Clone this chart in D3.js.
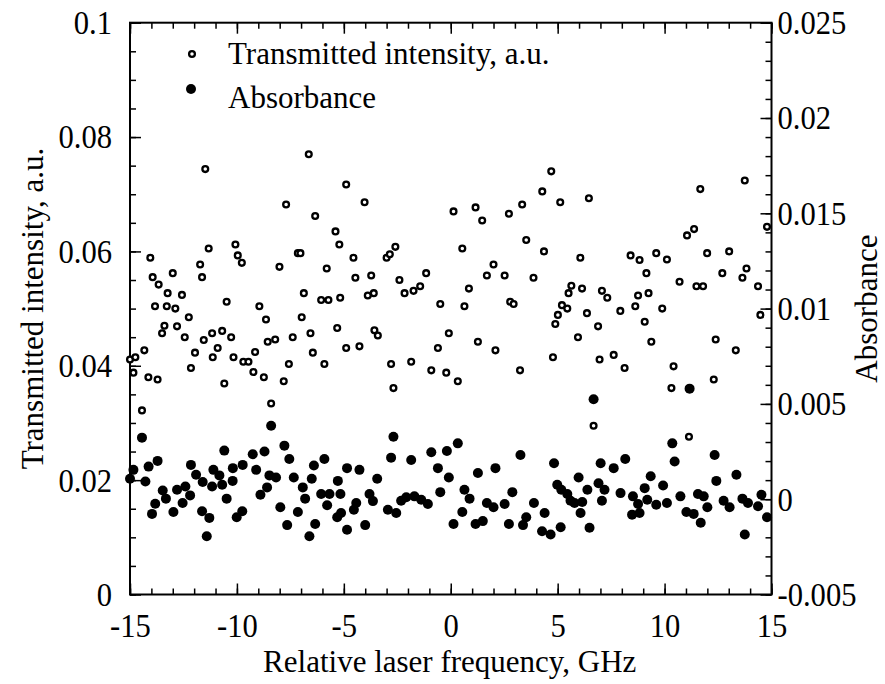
<!DOCTYPE html>
<html>
<head>
<meta charset="utf-8">
<script src="https://cdn.jsdelivr.net/npm/d3@7"></script>
<style>
  body { margin: 0; background: #fff; }
  svg text { font-family: "Liberation Serif", "Times New Roman", serif; fill: #000; }
</style>
</head>
<body>
<div id="chart"></div>
<script>
// Transmitted intensity (open circles), left axis
const transFreq = [
  -11.48, -14.05, -13.94, -13.66, -13.24, -12.57, -13.0, -13.83, -13.28, -12.88,
  -12.25, -13.39, -13.5, -12.8, -12.44, -15.0, -14.75, -14.33, -14.84, -14.14,
  -13.71, -14.44, -12.15, -11.96, -11.55, -11.16, -10.69, -10.27, -11.13, -10.9,
  -10.59, -10.16, -9.70, -10.48, -11.72, -11.63, -11.32, -10.07, -9.96, -9.77,
  -9.46, -6.64, -4.89, -7.70, -4.03, -6.34, -5.39, -5.21, -7.15, -7.03,
  -4.55, -8.01, -5.80, -4.46, -3.72, -6.87, -6.06, -5.72, -5.17, -3.88,
  -3.60, -8.95, -8.64, -6.97, -8.56, -8.21, -7.39, -6.56, -5.31, -3.57,
  -3.41, -9.15, -9.23, -8.74, -7.57, -7.81, -6.45, -5.91, -4.89, -4.27,
  -8.40, 0.13, 1.16, 1.47, 2.72, -2.59, -3.0, -2.85, 0.54, 2.0,
  1.69, 2.52, -2.4, -1.15, -2.16, -1.74, -1.43, 0.85, -0.49, 0.64,
  2.78, 2.94, -0.09, -0.6, 1.27, 2.09, -2.79, -1.85, -0.91, -0.21,
  0.33, -2.68, 4.70, 4.28, 3.34, 5.12, 6.46, 3.53, 4.36, 6.06,
  8.41, 8.83, 9.15, 3.87, 5.64, 5.51, 6.14, 7.07, 7.32, 8.76,
  8.63, 9.25, 5.20, 5.45, 5.01, 4.89, 6.37, 6.89, 7.93, 9.07,
  5.95, 4.78, 6.96, 7.62, 8.13, 3.24, 6.68, 13.75, 11.67, 11.05,
  11.38, 14.79, 9.61, 10.11, 11.99, 13.02, 10.70, 11.49, 11.80, 12.70,
  13.64, 13.83, 14.37, 9.89, 9.38, 14.48, 12.39, 13.33, 10.42, 10.32,
  12.30, 11.14
];
const transValue = [
  0.0744, 0.0589, 0.0555, 0.0542, 0.0527, 0.0524, 0.0562, 0.0504, 0.0504, 0.0500,
  0.0485, 0.0470, 0.0457, 0.0469, 0.0450, 0.0411, 0.0415, 0.0427, 0.0388, 0.0380,
  0.0376, 0.0322, 0.0396, 0.0423, 0.0445, 0.0457, 0.0461, 0.0450, 0.0415, 0.0431,
  0.0369, 0.0415, 0.0407, 0.0512, 0.0577, 0.0555, 0.0605, 0.0612, 0.0593, 0.0580,
  0.0407, 0.0770, 0.0717, 0.0682, 0.0686, 0.0662, 0.0635, 0.0612, 0.0597, 0.0597,
  0.0589, 0.0573, 0.0570, 0.0554, 0.0558, 0.0527, 0.0515, 0.0515, 0.0519, 0.0523,
  0.0527, 0.0504, 0.0481, 0.0485, 0.0442, 0.0446, 0.0450, 0.0457, 0.0466, 0.0462,
  0.0453, 0.0424, 0.0389, 0.0380, 0.0403, 0.0373, 0.0423, 0.0403, 0.0431, 0.0434,
  0.0334, 0.0670, 0.0677, 0.0654, 0.0666, 0.0608, 0.0589, 0.0595, 0.0605, 0.0577,
  0.0558, 0.0558, 0.0550, 0.0562, 0.0527, 0.0531, 0.0539, 0.0535, 0.0508, 0.0504,
  0.0512, 0.0508, 0.0457, 0.0431, 0.0442, 0.0427, 0.0403, 0.0407, 0.0392, 0.0388,
  0.0373, 0.0361, 0.0740, 0.0705, 0.0682, 0.0686, 0.0693, 0.0620, 0.0600, 0.0589,
  0.0593, 0.0585, 0.0562, 0.0554, 0.0540, 0.0527, 0.0535, 0.0531, 0.0519, 0.0523,
  0.0504, 0.0527, 0.0506, 0.0500, 0.0489, 0.0473, 0.0492, 0.0469, 0.0496, 0.0477,
  0.0450, 0.0415, 0.0411, 0.0419, 0.0396, 0.0392, 0.0295, 0.0724, 0.0709, 0.0628,
  0.0639, 0.0643, 0.0597, 0.0586, 0.0597, 0.0600, 0.0547, 0.0539, 0.0539, 0.0562,
  0.0554, 0.0570, 0.0539, 0.0500, 0.0442, 0.0489, 0.0446, 0.0427, 0.0399, 0.0361,
  0.0376, 0.0276
];

// Absorbance (filled circles), right axis
const absFreq = [
  -14.44, -14.84, -15.0, -14.28, -14.13, -13.71, -13.47, -13.82, -13.97, -13.32,
  -12.97, -12.8, -12.41, -12.54, -12.19, -12.15, -11.91, -11.6, -11.63, -11.29,
  -11.41, -11.16, -11.1, -10.82, -10.69, -10.48, -10.59, -10.19, -10.2, -10.01,
  -9.73, -9.75, -8.4, -7.78, -7.55, -8.71, -9.26, -9.10, -8.48, -8.17,
  -8.59, -8.9, -7.97, -7.65, -7.34, -6.92, -6.81, -7.15, -6.61, -6.34,
  -6.5, -6.4, -5.91, -6.06, -5.67, -5.16, -5.78, -5.28, -4.85, -4.27,
  -5.31, -5.13, -4.85, -4.42, -4.53, -4.0, -3.8, -3.64, -3.44, -2.68,
  -2.79, -1.85, -0.91, -0.18, 0.33, -0.6, -0.09, 1.27, 2.09, -2.94,
  -2.55, -2.32, -2.08, -1.7, -1.38, -1.07, -0.49, 0.64, 0.88, 0.54,
  0.13, 1.16, 1.5, 1.69, 2.0, 2.52, 2.72, 2.88, 6.68, 3.26,
  4.83, 7.01, 7.62, 8.16, 5.98, 6.91, 6.39, 4.98, 5.17, 5.45,
  5.6, 5.79, 6.15, 7.19, 7.07, 7.94, 3.89, 4.39, 3.53, 3.38,
  4.27, 4.67, 5.14, 6.07, 6.49, 8.52, 8.76, 8.48, 8.83, 9.07,
  9.19, 9.35, 11.17, 10.36, 10.47, 12.34, 13.36, 12.42, 14.53, 9.93,
  9.61, 10.11, 10.74, 11.56, 11.83, 12.0, 11.02, 11.36, 11.69, 12.76,
  13.04, 13.64, 13.9, 14.37, 13.75, 14.79
];
const absValue = [
  0.00323, 0.00154, 0.00107, 0.00093, 0.00171, 0.00201, 0.00046, -0.00024, -0.00077, 0.00003,
  -0.00067, 0.00050, 0.00067, -0.0002, 0.0002, 0.0018, 0.00128, 0.0009, -0.00063, -0.00098,
  -0.00194, 0.00067, 0.00154, 0.00125, 0.00076, 0.00003, 0.00255, 0.00163, 0.00096, -0.00095,
  0.0018, -0.00063, 0.00385, 0.00281, 0.00211, 0.0025, 0.00236, 0.00154, 0.00125, 0.00114,
  0.00062, 0.00023, -0.00042, -0.00136, 0.00114, 0.00062, 0.00003, -0.00067, -0.00194, -0.0013,
  0.00107, 0.00177, 0.00211, 0.00027, 0.00027, 0.00027, -0.00032, 0.00096, 0.00163, 0.00154,
  -0.00095, -0.00072, -0.0016, -0.0002, -0.00055, -0.00136, 0.00027, -0.0001, 0.00107, 0.00328,
  0.00218, 0.00206, 0.00246, 0.00253, 0.00293, 0.00163, 0.00114, 0.00137, 0.00163, -0.00055,
  -0.00072, -0.00008, 0.0001, 0.00015, -0.00003, -0.00025, 0.00037, 0.0005, 0.00003, -0.00067,
  -0.0013, -0.0013, -0.00115, -0.0002, -0.00042, -0.00025, -0.0013, 0.00037, 0.00524, 0.00232,
  0.00189, 0.00189, 0.00163, 0.00211, 0.00114, 0.00084, 0.0005, 0.00076, 0.0005, 0.00027,
  -0.00008, -0.0002, -0.00015, 0.0005, -0.00008, 0.00032, -0.0002, -0.00072, -0.00095, -0.00136,
  -0.00168, -0.00185, -0.00147, -0.00072, -0.0015, 0.00015, -0.00025, -0.00081, -0.00072, 0.00058,
  -0.00003, 0.0012, 0.0058, 0.00293, 0.00198, 0.00232, 0.00128, 0.00096, 0.00023, 0.00072,
  -0.00029, -0.0002, 0.00015, 0.00027, 0.00015, -0.00042, -0.00067, -0.00077, -0.00124, -0.00008,
  -0.00042, 0.00003, -0.0002, -0.00037, -0.00185, -0.00095
];

// tick values
const xTicks = [-15, -10, -5, 0, 5, 10, 15];
const leftTicks = [0, 0.02, 0.04, 0.06, 0.08, 0.1];
const rightTicks = [-0.005, 0, 0.005, 0.01, 0.015, 0.02, 0.025];

const width = 885, height = 684;
const plot = { left: 130, right: 771.5, top: 22.7, bottom: 594.5 };

const svg = d3.select('#chart').append('svg')
    .attr('width', width)
    .attr('height', height);

const x = d3.scaleLinear().domain([-15, 15]).range([plot.left, plot.right]);
const yL = d3.scaleLinear().domain([0, 0.1]).range([plot.bottom, plot.top]);
const yR = d3.scaleLinear().domain([-0.005, 0.025]).range([plot.bottom, plot.top]);

const major = 11, minor = 6, tickFont = 34;
const squeeze = 0.9; // reference digits are narrow, taller than wide

// minor tick positions (every 1 GHz, every 0.005 left, every 0.001 right)
const xMinor = d3.range(-15, 15.001, 1);
const leftMinor = d3.range(0, 0.1001, 0.005);
const rightMinor = d3.range(-0.005, 0.02501, 0.001);

function styleAxis(g) {
    g.select('.domain').remove();
    g.selectAll('line').attr('stroke', '#000').attr('stroke-width', 1.5);
    g.selectAll('text')
        .style('font-size', tickFont + 'px')
        .attr('fill', '#000')
        .attr('x', function() { return (+d3.select(this).attr('x') || 0) / squeeze; })
        .attr('transform', `scale(${squeeze},1)`);
}

// bottom
svg.append('g').attr('transform', `translate(0,${plot.bottom})`)
    .call(d3.axisBottom(x).tickValues(xMinor).tickSize(-minor).tickFormat(''))
    .call(styleAxis);
svg.append('g').attr('transform', `translate(0,${plot.bottom})`)
    .call(d3.axisBottom(x).tickValues(xTicks).tickSize(-major).tickPadding(18).tickFormat(d => String(d)))
    .call(styleAxis);
// top
svg.append('g').attr('transform', `translate(0,${plot.top})`)
    .call(d3.axisTop(x).tickValues(xMinor).tickSize(-minor).tickFormat(''))
    .call(styleAxis);
svg.append('g').attr('transform', `translate(0,${plot.top})`)
    .call(d3.axisTop(x).tickValues(xTicks).tickSize(-major).tickFormat(''))
    .call(styleAxis);
// left
svg.append('g').attr('transform', `translate(${plot.left},0)`)
    .call(d3.axisLeft(yL).tickValues(leftMinor).tickSize(-minor).tickFormat(''))
    .call(styleAxis);
svg.append('g').attr('transform', `translate(${plot.left},0)`)
    .call(d3.axisLeft(yL).tickValues(leftTicks).tickSize(-major).tickPadding(18).tickFormat(d => String(d)))
    .call(styleAxis);
// right
svg.append('g').attr('transform', `translate(${plot.right},0)`)
    .call(d3.axisRight(yR).tickValues(rightMinor).tickSize(-minor).tickFormat(''))
    .call(styleAxis);
svg.append('g').attr('transform', `translate(${plot.right},0)`)
    .call(d3.axisRight(yR).tickValues(rightTicks).tickSize(-major).tickPadding(6).tickFormat(d => String(d)))
    .call(styleAxis);

// frame
svg.append('rect')
    .attr('x', plot.left).attr('y', plot.top)
    .attr('width', plot.right - plot.left)
    .attr('height', plot.bottom - plot.top)
    .attr('fill', 'none')
    .attr('stroke', '#000')
    .attr('stroke-width', 2);

// points
const transData = transFreq.map((f, i) => ({ f, v: transValue[i] }));
const absData = absFreq.map((f, i) => ({ f, v: absValue[i] }));

svg.append('g').selectAll('circle')
    .data(transData)
    .enter().append('circle')
    .attr('cx', d => x(d.f))
    .attr('cy', d => yL(d.v))
    .attr('r', 2.9)
    .attr('fill', '#fff')
    .attr('stroke', '#000')
    .attr('stroke-width', 2.3);

svg.append('g').selectAll('circle')
    .data(absData)
    .enter().append('circle')
    .attr('cx', d => x(d.f))
    .attr('cy', d => yR(d.v))
    .attr('r', 5)
    .attr('fill', '#000');

// legend
svg.append('circle').attr('cx', 192).attr('cy', 54).attr('r', 2.9)
    .attr('fill', '#fff').attr('stroke', '#000').attr('stroke-width', 2.3);
svg.append('text').attr('x', 228).attr('y', 64).style('font-size', '31px')
    .text('Transmitted intensity, a.u.');
svg.append('circle').attr('cx', 191).attr('cy', 89).attr('r', 5).attr('fill', '#000');
svg.append('text').attr('x', 228).attr('y', 108).style('font-size', '31px')
    .text('Absorbance');

// axis titles
svg.append('text')
    .attr('x', (plot.left + plot.right) / 2 - 1)
    .attr('y', 672)
    .attr('text-anchor', 'middle')
    .style('font-size', '31px')
    .text('Relative laser frequency, GHz');

svg.append('text')
    .attr('transform', `translate(43,${(plot.top + plot.bottom) / 2})rotate(-90)`)
    .attr('text-anchor', 'middle')
    .style('font-size', '31px')
    .text('Transmitted intensity, a.u.');

svg.append('text')
    .attr('transform', `translate(877,${(plot.top + plot.bottom) / 2})rotate(-90)`)
    .attr('text-anchor', 'middle')
    .style('font-size', '31px')
    .text('Absorbance');
</script>
</body>
</html>
